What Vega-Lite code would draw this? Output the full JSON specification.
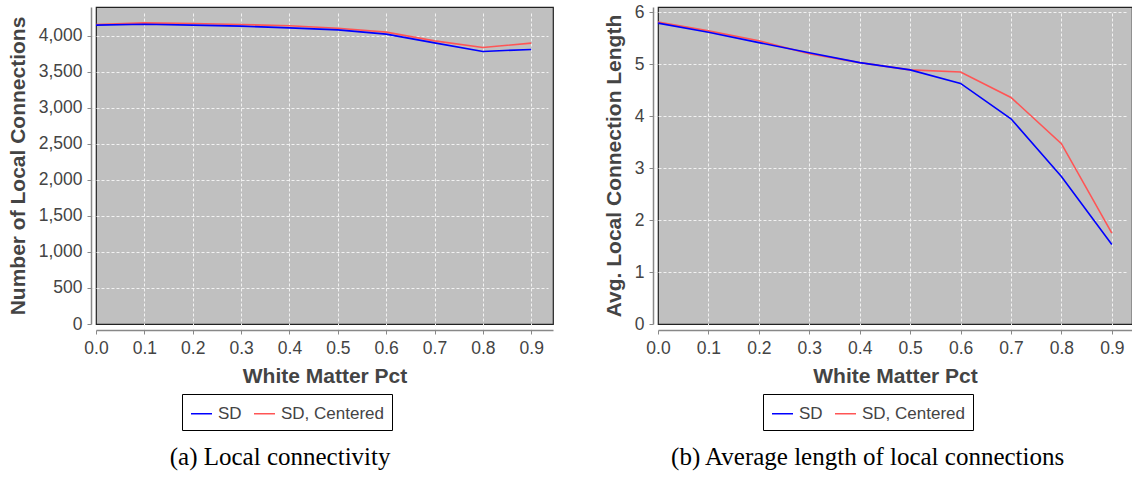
{
  "$schema": "https://vega.github.io/schema/vega-lite/v6.json",
  "padding": {"left": 6, "top": 2, "right": 0, "bottom": 0},
  "background": "white",
  "spacing": 48,
  "datasets": {
    "counts": [
      {"pct": 0.0, "series": "SD, Centered", "value": 4155},
      {"pct": 0.1, "series": "SD, Centered", "value": 4180},
      {"pct": 0.2, "series": "SD, Centered", "value": 4170},
      {"pct": 0.3, "series": "SD, Centered", "value": 4157},
      {"pct": 0.4, "series": "SD, Centered", "value": 4140},
      {"pct": 0.5, "series": "SD, Centered", "value": 4106},
      {"pct": 0.6, "series": "SD, Centered", "value": 4051},
      {"pct": 0.7, "series": "SD, Centered", "value": 3930},
      {"pct": 0.8, "series": "SD, Centered", "value": 3838},
      {"pct": 0.9, "series": "SD, Centered", "value": 3898},
      {"pct": 0.0, "series": "SD", "value": 4148},
      {"pct": 0.1, "series": "SD", "value": 4161},
      {"pct": 0.2, "series": "SD", "value": 4148},
      {"pct": 0.3, "series": "SD", "value": 4134},
      {"pct": 0.4, "series": "SD", "value": 4110},
      {"pct": 0.5, "series": "SD", "value": 4083},
      {"pct": 0.6, "series": "SD", "value": 4023},
      {"pct": 0.7, "series": "SD", "value": 3902},
      {"pct": 0.8, "series": "SD", "value": 3783},
      {"pct": 0.9, "series": "SD", "value": 3811}
    ],
    "lengths": [
      {"pct": 0.0, "series": "SD, Centered", "value": 5.81},
      {"pct": 0.1, "series": "SD, Centered", "value": 5.64},
      {"pct": 0.2, "series": "SD, Centered", "value": 5.45},
      {"pct": 0.3, "series": "SD, Centered", "value": 5.2},
      {"pct": 0.4, "series": "SD, Centered", "value": 5.03},
      {"pct": 0.5, "series": "SD, Centered", "value": 4.89},
      {"pct": 0.6, "series": "SD, Centered", "value": 4.85},
      {"pct": 0.7, "series": "SD, Centered", "value": 4.36},
      {"pct": 0.8, "series": "SD, Centered", "value": 3.47},
      {"pct": 0.9, "series": "SD, Centered", "value": 1.75},
      {"pct": 0.0, "series": "SD", "value": 5.79},
      {"pct": 0.1, "series": "SD", "value": 5.615},
      {"pct": 0.2, "series": "SD", "value": 5.415},
      {"pct": 0.3, "series": "SD", "value": 5.22},
      {"pct": 0.4, "series": "SD", "value": 5.03},
      {"pct": 0.5, "series": "SD", "value": 4.89},
      {"pct": 0.6, "series": "SD", "value": 4.63},
      {"pct": 0.7, "series": "SD", "value": 3.95},
      {"pct": 0.8, "series": "SD", "value": 2.84},
      {"pct": 0.9, "series": "SD", "value": 1.53}
    ]
  },
  "hconcat": [
    {
      "title": {"text": "(a) Local connectivity"},
      "width": 457,
      "height": 317,
      "data": {"name": "counts"},
      "mark": {"type": "line", "strokeWidth": 1.6},
      "encoding": {
        "x": {
          "field": "pct", "type": "quantitative", "title": "White Matter Pct",
          "scale": {"domain": [0, 0.945], "nice": false, "zero": false},
          "axis": {"values": [0, 0.1, 0.2, 0.3, 0.4, 0.5, 0.6, 0.7, 0.8, 0.9], "format": ".1f"}
        },
        "y": {
          "field": "value", "type": "quantitative", "title": "Number of Local Connections",
          "scale": {"domain": [0, 4400], "nice": false},
          "axis": {"values": [0, 500, 1000, 1500, 2000, 2500, 3000, 3500, 4000], "format": ",d"}
        },
        "color": {
          "field": "series", "type": "nominal", "title": null,
          "scale": {"domain": ["SD", "SD, Centered"], "range": ["#0000ff", "#ff5555"]},
          "legend": {"legendX": 86, "legendY": 387}
        }
      }
    },
    {
      "title": {"text": "(b) Average length of local connections"},
      "width": 474,
      "height": 317,
      "data": {"name": "lengths"},
      "mark": {"type": "line", "strokeWidth": 1.6},
      "encoding": {
        "x": {
          "field": "pct", "type": "quantitative", "title": "White Matter Pct",
          "scale": {"domain": [0, 0.94], "nice": false, "zero": false},
          "axis": {"values": [0, 0.1, 0.2, 0.3, 0.4, 0.5, 0.6, 0.7, 0.8, 0.9], "format": ".1f"}
        },
        "y": {
          "field": "value", "type": "quantitative", "title": "Avg. Local Connection Length",
          "scale": {"domain": [0, 6.1], "nice": false},
          "axis": {"values": [0, 1, 2, 3, 4, 5, 6], "format": "d"}
        },
        "color": {
          "field": "series", "type": "nominal", "title": null,
          "scale": {"domain": ["SD", "SD, Centered"], "range": ["#0000ff", "#ff5555"]},
          "legend": {"legendX": 105, "legendY": 387}
        }
      }
    }
  ],
  "resolve": {"scale": {"color": "independent"}},
  "config": {
    "font": "Liberation Sans",
    "view": {"fill": "#c0c0c0", "stroke": "#222222", "strokeWidth": 1.2},
    "axis": {
      "domainColor": "#888888",
      "domainWidth": 1.5,
      "tickColor": "#888888",
      "tickSize": 4,
      "tickWidth": 1,
      "labelFont": "Liberation Sans",
      "labelFontSize": 17.5,
      "labelColor": "#444444",
      "labelPadding": 5,
      "titleFont": "Liberation Sans",
      "titleFontSize": 21,
      "titleFontWeight": "bold",
      "titleColor": "#444444",
      "gridColor": "#f2f2f2",
      "gridDash": [3, 2],
      "gridWidth": 1,
      "gridOpacity": {"condition": {"test": "datum.value === 0", "value": 0}, "value": 1},
      "labelFlush": false
    },
    "axisX": {"offset": 6, "titlePadding": 9},
    "axisY": {"offset": 5, "titlePadding": 10},
    "legend": {
      "orient": "none",
      "direction": "horizontal",
      "strokeColor": "#000000",
      "padding": 8,
      "symbolType": "stroke",
      "symbolSize": 441,
      "symbolStrokeWidth": 1.5,
      "labelFont": "Liberation Sans",
      "labelFontSize": 17,
      "labelColor": "#444444",
      "labelOffset": 5,
      "columnPadding": 9
    },
    "title": {
      "orient": "bottom",
      "frame": "bounds",
      "anchor": "middle",
      "font": "Liberation Serif",
      "fontSize": 25,
      "fontWeight": "normal",
      "color": "#000000",
      "offset": 14
    }
  }
}
